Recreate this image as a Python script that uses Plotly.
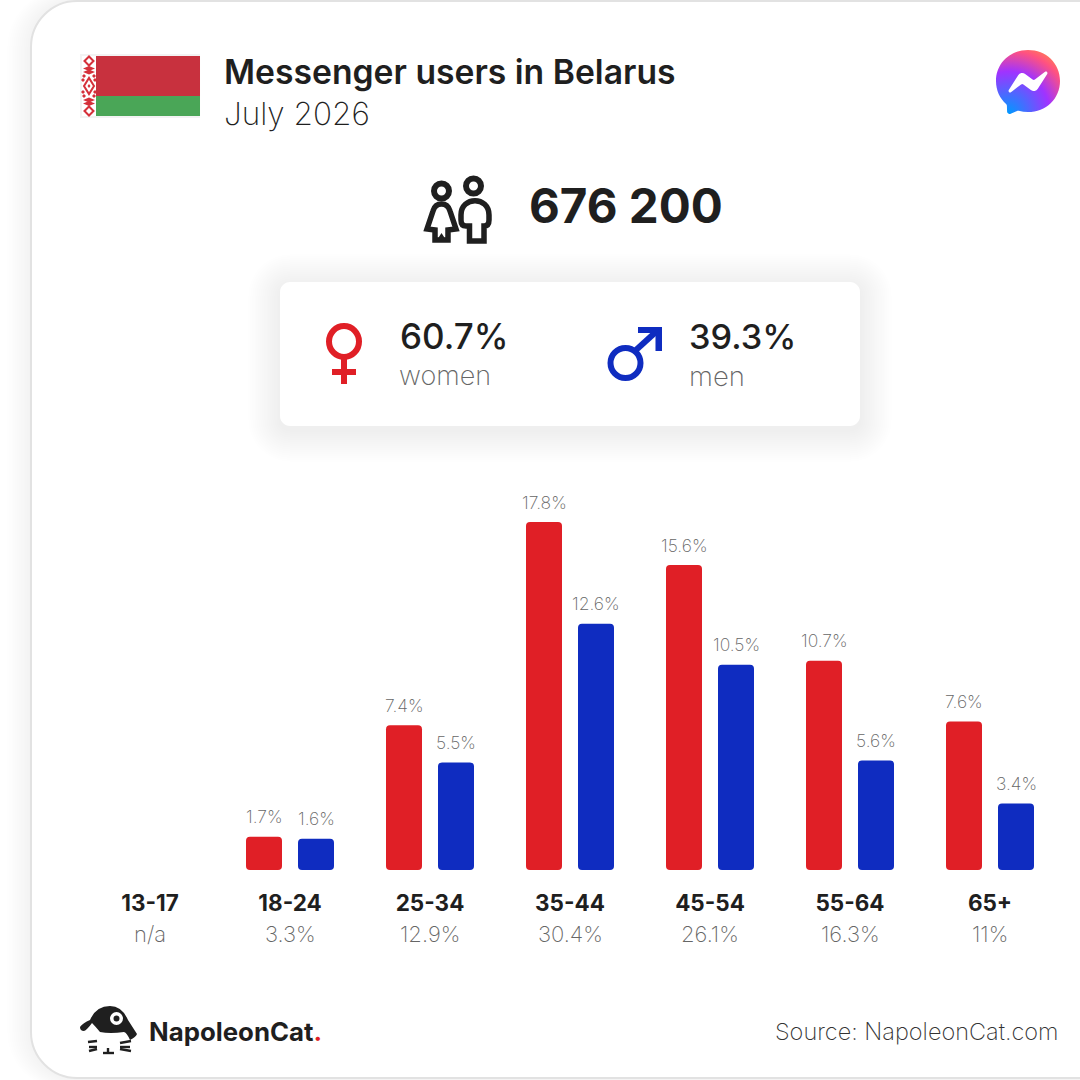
import re
import base64
import plotly.graph_objects as go

# ---------- data ----------
age_groups = ["13-17", "18-24", "25-34", "35-44", "45-54", "55-64", "65+"]
age_shares = ["n/a", "3.3%", "12.9%", "30.4%", "26.1%", "16.3%", "11%"]
women = [None, 1.7, 7.4, 17.8, 15.6, 10.7, 7.6]
men = [None, 1.6, 5.5, 12.6, 10.5, 5.6, 3.4]
women_labels = ["", "1.7%", "7.4%", "17.8%", "15.6%", "10.7%", "7.6%"]
men_labels = ["", "1.6%", "5.5%", "12.6%", "10.5%", "5.6%", "3.4%"]
title = "Messenger users in Belarus"
subtitle = "July 2026"
total_users = "676 200"
women_share = "60.7%"
men_share = "39.3%"
source = "Source: NapoleonCat.com"

# ---------- style ----------
RED = "#e01f26"
BLUE = "#0f2cc0"
INK = "#1f1f1f"
GREY = "#666666"
FONT = "Inter"
W = 1080.0


def px_path(s):
    """Turn an absolute M/L/Q/C/Z path in page pixels into paper coordinates."""
    out, is_x = [], True
    for tok in re.findall(r"[MLQCZ]|-?\d+\.?\d*", s):
        if tok in "MLQCZ":
            out.append(tok)
            is_x = True
        else:
            v = float(tok)
            out.append(f"{v / W:.5f}" if is_x else f"{1 - v / W:.5f}")
            is_x = not is_x
    res = ""
    for t in out:
        res += t if t in "MLQCZ" else t + " "
    return res


def rrect(x0, y0, x1, y1, r):
    k = r * 0.45
    return (f"M{x0 + r} {y0} L{x1 - r} {y0} C{x1 - k} {y0} {x1} {y0 + k} {x1} {y0 + r} "
            f"L{x1} {y1 - r} C{x1} {y1 - k} {x1 - k} {y1} {x1 - r} {y1} "
            f"L{x0 + r} {y1} C{x0 + k} {y1} {x0} {y1 - k} {x0} {y1 - r} "
            f"L{x0} {y0 + r} C{x0} {y0 + k} {x0 + k} {y0} {x0 + r} {y0} Z")


shapes = []


def add_path(d, fill=None, line=None, lw=0, opacity=1, layer="below"):
    shapes.append(dict(type="path", path=px_path(d), xref="paper", yref="paper",
                       fillcolor=fill or "rgba(0,0,0,0)",
                       line=dict(color=line or "rgba(0,0,0,0)", width=lw),
                       opacity=opacity, layer=layer))


def add_oval(cx, cy, rx, ry, fill=None, line=None, lw=0):
    shapes.append(dict(type="circle", xref="paper", yref="paper",
                       x0=(cx - rx) / W, x1=(cx + rx) / W,
                       y0=1 - (cy + ry) / W, y1=1 - (cy - ry) / W,
                       fillcolor=fill or "rgba(0,0,0,0)",
                       line=dict(color=line or "rgba(0,0,0,0)", width=lw),
                       layer="below"))


# outer card with faint shadow
for i in range(12, 0, -1):
    add_path(rrect(31 - i * 2, 1 - i, 1140, 1078 + i, 46 + i), fill="#000000", opacity=0.0022)
add_path(rrect(31, 1, 1140, 1078, 46), fill="#ffffff", line="#e2e2e2", lw=2)

# flag
add_path("M80 54 L200 54 L200 118 L80 118 Z", fill="#f3f3f3")
add_path("M82 56 L96 56 L96 116 L82 116 Z", fill="#ffffff")
add_path("M96 56 L200 56 L200 96 L96 96 Z", fill="#c8313e")
add_path("M96 96 L200 96 L200 116 L96 116 Z", fill="#4aa657")
ORN = "#d5303a"
for cy, hx, hy in [(61, 4.5, 4.5), (111, 4.5, 4.5), (86, 5, 8)]:
    add_path(f"M{89 - hx} {cy} L89 {cy - hy} L{89 + hx} {cy} L89 {cy + hy} Z", line=ORN, lw=2)
for cy in (68.5, 72, 100, 103.5):
    add_path(f"M83 {cy} L89 {cy - 2.5} L95 {cy} L89 {cy + 2.5} Z", fill=ORN)
for cy, dx in [(76, 5), (96, 5), (80, 6), (92, 6)]:
    add_path(f"M{89 - dx} {cy - 2} L{89 - dx + 2} {cy} L{89 - dx} {cy + 2} L{89 - dx - 2} {cy} Z", fill=ORN)
    add_path(f"M{89 + dx} {cy - 2} L{89 + dx + 2} {cy} L{89 + dx} {cy + 2} L{89 + dx - 2} {cy} Z", fill=ORN)
add_path("M87.500 86 L89 84 L90.500 86 L89 88 Z", fill=ORN)

# people icon
add_oval(441.5, 191, 7.5, 7.5, line=INK, lw=6)
add_oval(473.5, 186, 7.5, 7.5, line=INK, lw=6)
add_path("M441.500 204 Q435 204 433 211 L427 229 L435 230 L435 240 L448 240 "
         "L448 230 L456 229 L450 211 Q448 204 441.500 204 Z", line=INK, lw=5.5)
add_path("M441.500 233 L437 240 L446 240 Z", fill=INK)
add_path("M469.500 241 L469.500 226 L466 226 Q461 226 461 220 L461 215 C461 196 489 196 489 215 "
         "L489 220 Q489 226 484 226 L484 241 Z", line=INK, lw=5.5)

# summary card with soft shadow
for i in range(16, 0, -1):
    add_path(rrect(280 - i * 2, 282 - i * 2 + 4, 860 + i * 2, 426 + i * 2 + 4, 10 + i * 2),
             fill="#000000", opacity=0.0022)
add_path(rrect(280, 282, 860, 426, 10), fill="#ffffff")

# venus
add_oval(344, 341.5, 15, 15.5, line=RED, lw=6)
add_path("M341 358 L347 358 L347 369 L356 369 L356 375 L347 375 L347 384 L341 384 L341 375 "
         "L332 375 L332 369 L341 369 Z", fill=RED)
# mars
add_oval(625.5, 363, 15, 15, line=BLUE, lw=6)
add_path("M636 350 L658 330", line=BLUE, lw=6)
add_path("M638 327 L662 327 L662 351 L655.500 351 L655.500 333 L638 333 Z", fill=BLUE)

# NapoleonCat logo
add_path("M80 1027 Q83 1023 90 1020 Q96 1006 110 1006 Q122 1006 128 1020 L137 1034 "
         "Q136 1037 130 1040 Q127 1033 124 1032 Q110 1034 100 1032 Q95 1026 92 1023 "
         "Q87 1030 84 1031 Q80 1031 80 1027 Z", fill=INK)
add_oval(116.5, 1018.5, 6.5, 6.5, fill="#ffffff")
add_oval(116.5, 1018.5, 3, 3, fill=INK)
for d in ["M88 1042 L97 1041", "M89 1047 L97 1047", "M89 1051 L97 1049",
          "M120 1043 L131 1041", "M120 1047 L130 1047", "M120 1049 L131 1051",
          "M108 1048 L108 1052", "M103 1053 L114 1053"]:
    add_path(d, line=INK, lw=2.4)

# ---------- chart ----------
x_pos = list(range(len(age_groups)))
BAR = 36 / 140
W_OFF = -44 / 140
M_OFF = 8 / 140
fig = go.Figure()
fig.add_bar(x=x_pos, y=women, base=[0] * 7, name="women", marker=dict(color=RED, line=dict(width=0)),
            width=BAR, offset=W_OFF, hoverinfo="skip")
fig.add_bar(x=x_pos, y=men, base=[0] * 7, name="men", marker=dict(color=BLUE, line=dict(width=0)),
            width=BAR, offset=M_OFF, hoverinfo="skip")

annotations = []


def note(text, x, y, size, color=INK, weight=400, anchor="left"):
    annotations.append(dict(text=text, x=x / W, y=1 - y / W, xref="paper", yref="paper",
                            xanchor=anchor, yanchor="middle", showarrow=False, borderpad=0,
                            xshift=-2 if anchor == "left" else 2,
                            font=dict(family=FONT, size=size, color=color, weight=weight)))


note(title, 225, 71, 33.7, weight=600)
note(subtitle, 225, 114, 31.5, weight=200)
note(total_users, 530, 205, 47.5, weight=700)
note(women_share, 401, 336, 35, weight=500)
note("women", 400, 376, 27, color=GREY, weight=200)
note(men_share, 690, 336, 34.3, weight=500)
note("men", 690, 376, 27.5, color=GREY, weight=200)
note(source, 1058, 1031, 23.5, weight=200, anchor="right", color="#333333")
note('NapoleonCat<span style="color:#e01f26">.</span>', 150, 1031, 25.8, weight=700)

for i, share in enumerate(age_shares):
    annotations.append(dict(text=share, x=x_pos[i], y=1 - 934 / W, xref="x", yref="paper",
                            xanchor="center", yanchor="middle", showarrow=False,
                            font=dict(family=FONT, size=22, color=GREY, weight=200)))

for values, labels, off in ((women, women_labels, W_OFF), (men, men_labels, M_OFF)):
    for i, (v, lab) in enumerate(zip(values, labels)):
        if v is None:
            continue
        annotations.append(dict(text=lab, x=x_pos[i] + off + BAR / 2, y=v, xref="x", yref="y",
                                xanchor="center", yanchor="middle", showarrow=False, yshift=20,
                                font=dict(family=FONT, size=17.5, color=GREY, weight=200)))

fig.update_layout(
    width=1080, height=1080,
    margin=dict(l=0, r=0, t=0, b=0),
    paper_bgcolor="#ffffff", plot_bgcolor="rgba(0,0,0,0)",
    barmode="overlay", barcornerradius=4, showlegend=False,
    font=dict(family=FONT, color=INK),
    xaxis=dict(domain=[80 / W, 1060 / W], range=[-0.5, 6.5], tickmode="array", tickvals=x_pos,
               ticktext=age_groups, showgrid=False, zeroline=False, showline=False, ticks="",
               tickfont=dict(family=FONT, size=22.5, color=INK, weight=700),
               ticklabelstandoff=17, anchor="y"),
    yaxis=dict(domain=[1 - 870 / W, 1 - 479 / W], range=[0, 20], visible=False, anchor="x"),
    shapes=shapes, annotations=annotations,
)

MESSENGER_SVG = (
    '<svg xmlns="http://www.w3.org/2000/svg" viewBox="0 0 800 800"><defs>'
    '<radialGradient id="a" cx="0.19" cy="0.99" r="1.09">'
    '<stop offset="0" stop-color="#0099ff"/><stop offset="0.6" stop-color="#a033ff"/>'
    '<stop offset="0.9" stop-color="#ff5280"/><stop offset="1" stop-color="#ff7061"/>'
    '</radialGradient></defs>'
    '<path fill="url(#a)" d="M400 0C174.700 0 0 165.100 0 388c0 116.600 47.800 217.400 125.600 287 '
    '6.500 5.800 10.500 14 10.700 22.800l2.200 71.200a32 32 0 0 0 44.900 28.300l79.400-35c6.700-3 14.300-3.500 '
    '21.400-1.600 36.500 10 75.300 15.400 115.800 15.400 225.300 0 400-165.100 400-388S625.300 0 400 0z"/>'
    '<path fill="#fff" d="M159.800 501.500l117.500-186.400a60 60 0 0 1 86.800-16l93.500 70.100a24 24 0 0 0 '
    '28.900-.1l126.200-95.800c16.800-12.800 38.800 7.400 27.600 25.300L522.700 484.900a60 60 0 0 1-86.800 16l-93.500-70.100'
    'a24 24 0 0 0-28.900.1l-126.200 95.800c-16.800 12.800-38.800-7.400-27.500-25.200z"/></svg>'
)
fig.add_layout_image(dict(
    source="data:image/svg+xml;base64," + base64.b64encode(MESSENGER_SVG.encode()).decode(),
    xref="paper", yref="paper", x=996 / W, y=1 - 50 / W, sizex=64 / W, sizey=64 / W,
    xanchor="left", yanchor="top", sizing="stretch", layer="above",
))

fig.write_html("out.html", config={"displayModeBar": False},
               post_script="document.body.style.margin='0';document.body.style.overflow='hidden';")
